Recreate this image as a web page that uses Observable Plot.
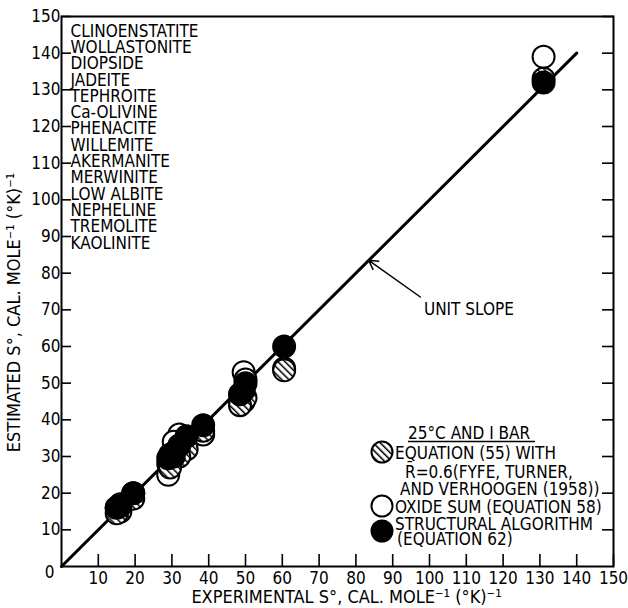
<!DOCTYPE html>
<html>
<head>
<meta charset="utf-8">
<script src="https://cdn.jsdelivr.net/npm/d3@7"></script>
<script src="https://cdn.jsdelivr.net/npm/@observablehq/plot@0.6"></script>
<style>
  html, body { margin: 0; padding: 0; background: #fff; }
  #chart { width: 628px; height: 608px; }
</style>
</head>
<body>
<div id="chart"></div>
<script>
// ---- data ----
const minerals = ["CLINOENSTATITE", "WOLLASTONITE", "DIOPSIDE", "JADEITE", "TEPHROITE", "Ca-OLIVINE", "PHENACITE",
  "WILLEMITE", "AKERMANITE", "MERWINITE", "LOW ALBITE", "NEPHELINE", "TREMOLITE", "KAOLINITE"];
const experimental = [16, 19.5, 34, 32, 38.5, 29, 15, 30.5, 49.5, 60.5, 50, 29.5, 131, 48.5];
const eq55 =         [15, 18.5, 32, 30, 37, 28, 14.5, 31, 45, 53.5, 46, 27, 133, 44];
const oxideSum =     [17, 20, 34, 36, 36, 25, 16, 34, 53, 54, 51, 30, 139, 45];
const structural =   [16.5, 20, 35.5, 33, 38.5, 29.5, 16, 30, 48, 60, 50, 30.5, 132, 47];
const ticks = [10, 20, 30, 40, 50, 60, 70, 80, 90, 100, 110, 120, 130, 140, 150];
const unitSlope = [0, 140];
const arrowNote = [{x1: 97.5, y1: 73.5, x2: 83.5, y2: 83.5}];
const noteText = [{x: 98.5, y: 70, label: "UNIT SLOPE"}];

const legendTitle = "25°C AND I BAR";
const legendItems = [
  {kind: "hatch", lines: ["EQUATION (55) WITH", "R̄=0.6(FYFE, TURNER,", "AND VERHOOGEN (1958))"]},
  {kind: "open", lines: ["OXIDE SUM (EQUATION 58)"]},
  {kind: "filled", lines: ["STRUCTURAL ALGORITHM", "(EQUATION 62)"]}
];

const rows = minerals.map((m, i) => ({m, x: experimental[i], h: eq55[i], o: oxideSum[i], f: structural[i]}));

const FONT = "'Liberation Sans Narrow', 'DejaVu Sans Condensed', 'Liberation Sans', sans-serif";

const listMarks = minerals.map((m, i) =>
  Plot.text([m], {frameAnchor: "top-left", textAnchor: "start", lineAnchor: "middle",
    dx: 9, dy: 14.7 + i * 16.3, fontSize: 17}));

const plot = Plot.plot({
  width: 628,
  height: 608,
  marginLeft: 61,
  marginRight: 15,
  marginTop: 16,
  marginBottom: 42,
  style: {fontFamily: FONT, fontSize: "17px", color: "#000", background: "#fff"},
  x: {domain: [0, 150]},
  y: {domain: [0, 150]},
  marks: [
    Plot.frame({stroke: "#000", strokeWidth: 2}),
    // inward ticks
    Plot.axisX(ticks, {anchor: "bottom", tickSize: -12, strokeWidth: 1.6, text: null, label: null}),
    Plot.axisX(ticks, {anchor: "bottom", tickSize: 0, tickPadding: 5, label: null, fontSize: 17, tickFormat: d => d}),
    Plot.axisY(ticks, {anchor: "left", tickSize: -10, strokeWidth: 1.6, text: null, label: null}),
    Plot.axisY(ticks, {anchor: "left", tickSize: 0, tickPadding: 1, label: null, fontSize: 17, tickFormat: d => d}),
    Plot.axisY(ticks, {anchor: "right", tickSize: -12, strokeWidth: 1.6, text: null, label: null}),
    Plot.text(["0"], {frameAnchor: "bottom-left", textAnchor: "middle", lineAnchor: "middle", dx: -12, dy: 6, fontSize: 17}),
    // axis titles
    Plot.text(["EXPERIMENTAL S°, CAL. MOLE⁻¹ (°K)⁻¹"], {frameAnchor: "bottom", lineAnchor: "middle", dx: 9, dy: 31, fontSize: 18}),
    Plot.text(["ESTIMATED S°, CAL. MOLE⁻¹ (°K)⁻¹"], {frameAnchor: "left", textAnchor: "middle", lineAnchor: "middle", dx: -47, dy: 21, rotate: -90, fontSize: 18}),
    // mineral list
    ...listMarks,
    // unit slope line
    Plot.line(unitSlope, {x: d => d, y: d => d, stroke: "#000", strokeWidth: 3}),
    Plot.arrow(arrowNote, {x1: "x1", y1: "y1", x2: "x2", y2: "y2", stroke: "#000", strokeWidth: 1.5, headLength: 10}),
    Plot.text(noteText, {x: "x", y: "y", text: "label", textAnchor: "start", fontSize: 17}),
    // points
    Plot.dot(rows, {x: "x", y: "o", r: 11, fill: "#fff", stroke: "#000", strokeWidth: 2}),
    Plot.dot(rows, {x: "x", y: "h", r: 11, fill: "url(#hatch)", stroke: "#000", strokeWidth: 2}),
    Plot.dot(rows, {x: "x", y: "f", r: 11, fill: "#000", stroke: "#000", strokeWidth: 2})
  ]
});

const svg = d3.select(plot);
svg.insert("defs", ":first-child").html(
  `<pattern id="hatch" patternUnits="userSpaceOnUse" width="5" height="5" patternTransform="rotate(-45)">
     <rect width="5" height="5" fill="#fff"/>
     <line x1="0" y1="0" x2="0" y2="5" stroke="#000" stroke-width="3"/>
   </pattern>`);

// legend
const lg = svg.append("g").attr("font-family", FONT).attr("font-size", 17)
  .attr("fill", "#000").attr("text-anchor", "start");
lg.append("text").attr("x", 408).attr("y", 439).text(legendTitle);
lg.append("line").attr("x1", 408).attr("x2", 535).attr("y1", 441.5).attr("y2", 441.5)
  .attr("stroke", "#000").attr("stroke-width", 1.3);
const iconY = [452, 506, 531];
const lineY = [[458.5, 477.5, 494.5], [512.5], [529.5, 545]];
const lineX = [[395, 405, 400], [395], [395, 397]];
legendItems.forEach((item, i) => {
  lg.append("circle").attr("cx", 382).attr("cy", iconY[i]).attr("r", 10.5)
    .attr("fill", item.kind === "hatch" ? "url(#hatch)" : item.kind === "open" ? "#fff" : "#000")
    .attr("stroke", "#000").attr("stroke-width", 2);
  item.lines.forEach((t, j) => {
    lg.append("text").attr("x", lineX[i][j]).attr("y", lineY[i][j]).text(t);
  });
});

document.getElementById("chart").appendChild(plot);
</script>
</body>
</html>
